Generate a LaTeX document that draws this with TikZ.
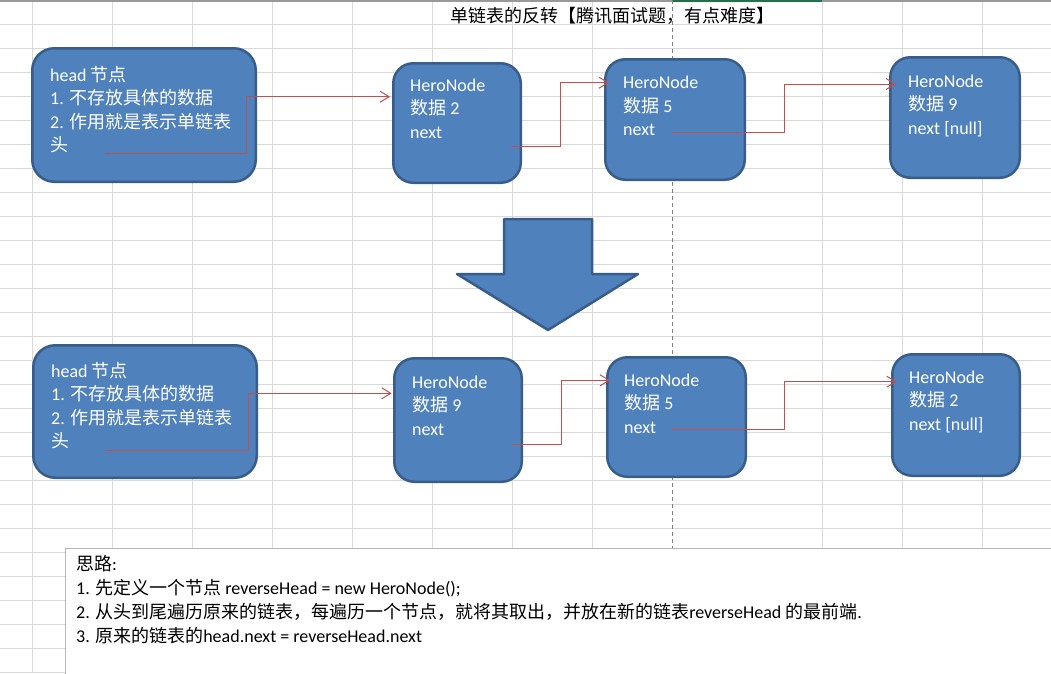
\documentclass[tikz,border=0pt]{standalone}
\usepackage{fontspec}
\setmainfont{Carlito}
\newfontfamily\zhfont{Noto Sans CJK SC}
\newcommand\zh[1]{{\zhfont #1}}
\usetikzlibrary{arrows.meta}
\definecolor{cellgrid}{HTML}{D9D9D9}
\definecolor{nodefill}{HTML}{4F81BD}
\definecolor{nodeline}{HTML}{385D8A}
\definecolor{linkred}{HTML}{C0504D}
\definecolor{pagebrk}{HTML}{808080}
\definecolor{xlgreen}{HTML}{217346}
\begin{document}
\begin{tikzpicture}[x=1pt,y=-1pt,line join=round,font=\fontsize{18}{23.5}\selectfont,
		>={Straight Barb[length=9pt,width=11pt]},
		cell/.style={draw=cellgrid,line width=1pt},
		card/.style={draw=nodeline,fill=nodefill,line width=2.5pt,rounded corners=20pt,inner sep=0pt},
		cardtext/.style={text=white,align=left,anchor=base west,inner sep=0pt},
		nextlink/.style={draw=linkred,line width=1pt,->}]
	\useasboundingbox (0,0) rectangle (1051,673);
	\clip (0,0) rectangle (1051,673);
	\foreach \gx in {32,112,...,592} \draw[cell] (\gx,0)--(\gx,673);
	\foreach \gx in {822,902,982} \draw[cell] (\gx,0)--(\gx,673);
	\foreach \gy in {24,48,...,672} \draw[cell] (0,\gy)--(1051,\gy);
	\draw[gray!80,line width=1.5pt] (0,0.75)--(1051,0.75);
	\draw[xlgreen,line width=1.5pt] (672,0.75)--(822,0.75);
	\draw[pagebrk,line width=1pt,dash pattern=on 4pt off 3pt] (672,0)--(672,548);
	\node[anchor=base,inner sep=0pt] (title) at (612,22.5) {\zh{单链表的反转【腾讯面试题，有点难度】}};
	
	\node[card,rounded corners=22pt,minimum width=223.5pt,minimum height=133.5pt] (h1) at (144,115) {};
	\node[card,minimum width=127.5pt,minimum height=119.5pt] (n2a) at (457,123) {};
	\node[card,minimum width=139.5pt,minimum height=120.5pt] (n5a) at (675,119.5) {};
	\node[card,minimum width=129.5pt,minimum height=120.5pt] (n9a) at (955,117.5) {};
	\node[card,rounded corners=22pt,minimum width=223.5pt,minimum height=132.5pt] (h2) at (145,411.5) {};
	\node[card,minimum width=127.5pt,minimum height=123.5pt] (n9b) at (458,420) {};
	\node[card,minimum width=138.5pt,minimum height=119.5pt] (n5b) at (676.5,417) {};
	\node[card,minimum width=127.5pt,minimum height=121.5pt] (n2b) at (956,415) {};
	
	\node[cardtext] (h1t) at (50,151.5) {head \zh{节点}\\1. \zh{不存放具体的数据}\\2. \zh{作用就是表示单链表}\\\zh{头}};
	\node[cardtext] (n2at) at (410,138) {HeroNode\\\zh{数据} 2\\next};
	\node[cardtext] (n5at) at (623,135.5) {HeroNode\\\zh{数据} 5\\next};
	\node[cardtext] (n9at) at (908,134) {HeroNode\\\zh{数据} 9\\next [null]};
	\node[cardtext] (h2t) at (51,447.5) {head \zh{节点}\\1. \zh{不存放具体的数据}\\2. \zh{作用就是表示单链表}\\\zh{头}};
	\node[cardtext] (n9bt) at (412,435) {HeroNode\\\zh{数据} 9\\next};
	\node[cardtext] (n5bt) at (624,433) {HeroNode\\\zh{数据} 5\\next};
	\node[cardtext] (n2bt) at (909,430) {HeroNode\\\zh{数据} 2\\next [null]};
	
	\coordinate (h1o) at (105,153);   \coordinate (n2ai) at (390,96.7);
	\coordinate (n2ao) at (511,146.7); \coordinate (n5ai) at (609,82.7);
	\coordinate (n5ao) at (672,132.3); \coordinate (n9ai) at (896,84);
	\coordinate (h2o) at (105,450);   \coordinate (n9bi) at (391.7,393.3);
	\coordinate (n9bo) at (512,444);   \coordinate (n5bi) at (610,380.3);
	\coordinate (n5bo) at (672,429.3); \coordinate (n2bi) at (896.7,381.7);
	\foreach \s/\d/\e in {h1o/141/n2ai,n2ao/49/n5ai,n5ao/112/n9ai,h2o/143/n9bi,n9bo/49/n5bi,n5bo/112/n2bi}
		\draw[nextlink] (\s)--++(\d,0)|-(\e);
	
	\draw[draw=nodeline,fill=nodefill,line width=2.5pt] (504,219)--(592,219)--(592,274)--(638,274)--(548,330)--(457,274)--(504,274)--cycle;
	
	\draw[draw=gray!55,fill=white,line width=1pt] (65.5,548)rectangle(1070,700);
	\node[align=left,anchor=base west,inner sep=0pt,font=\fontsize{18}{24}\selectfont] (idea) at (76,642)
		{\zh{思路}:\\1. \zh{先定义一个节点} reverseHead = new HeroNode();\\2. \zh{从头到尾遍历原来的链表，每遍历一个节点，就将其取出，并放在新的链表}reverseHead \zh{的最前端}.\\3. \zh{原来的链表的}head.next = reverseHead.next};
\end{tikzpicture}
\end{document}
